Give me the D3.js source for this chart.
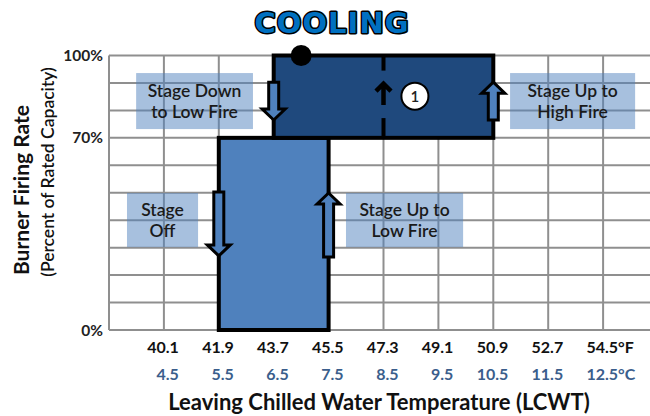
<!DOCTYPE html>
<html>
<head>
<meta charset="utf-8">
<script src="https://cdn.jsdelivr.net/npm/d3@7"></script>
<style>
  body { margin: 0; background: #fff; }
  svg { display: block; }
  text { font-family: Lato, "Noto Sans", sans-serif; }
</style>
</head>
<body>
<svg id="chart" width="650" height="416"></svg>
<script>
// temperature ticks (deg F on top row, deg C underneath)
var tempF = [40.1, 41.9, 43.7, 45.5, 47.3, 49.1, 50.9, 52.7, 54.5];
var tempC = [4.5, 5.5, 6.5, 7.5, 8.5, 9.5, 10.5, 11.5, 12.5];
var gridF = [38.3, 40.1, 41.9, 43.7, 45.5, 47.3, 49.1, 50.9, 52.7, 54.5, 56.3];
var gridPct = [0, 10, 20, 30, 40, 50, 60, 70, 80, 90, 100];
var pctLabels = [0, 70, 100];

// firing stages: [from degF, to degF, low %, high %]
var lowFire = [41.9, 45.5, 0, 70];
var highFire = [43.7, 50.9, 70, 100];

// note boxes: [x0, x1, y0, y1] in degF / percent, with the lines of text
var noteNames = ["Stage Down|to Low Fire", "Stage Up to|High Fire", "Stage|Off", "Stage Up to|Low Fire"];
var noteBoxes = [[39.19, 43.02, 73.2, 93.6], [51.45, 55.55, 73.2, 93.6],
                 [38.89, 41.22, 30.2, 49.9], [46.07, 49.91, 30.2, 49.9]];

// block arrows: [degF, tail %, tip %]
var arrows = [[43.7, 90.3, 76.5], [50.9, 76.5, 90.3], [41.9, 50.3, 27.0], [45.5, 26.6, 49.9]];

var svg = d3.select("#chart");
var x = d3.scaleLinear().domain([38.3, 56.3]).range([109, 658]);
var y = d3.scaleLinear().domain([0, 100]).range([330, 55.5]);

var dark = "#1F497D", mid = "#4F81BD";

// grid
var grid = svg.append("g").attr("stroke", "#8f8f8f").attr("stroke-width", 2);
grid.selectAll("line.v").data(gridF.slice(0, 10)).enter().append("line")
    .attr("x1", function(d) { return x(d); }).attr("x2", function(d) { return x(d); })
    .attr("y1", y(100)).attr("y2", y(0));
grid.selectAll("line.h").data(gridPct).enter().append("line")
    .attr("x1", x(38.3)).attr("x2", 650)
    .attr("y1", function(d) { return y(d); }).attr("y2", function(d) { return y(d); });

// note boxes (see-through so grid shows)
noteBoxes.forEach(function(b, i) {
    svg.append("rect")
        .attr("x", x(b[0])).attr("y", y(b[3]))
        .attr("width", x(b[1]) - x(b[0])).attr("height", y(b[2]) - y(b[3]))
        .attr("fill", mid).attr("fill-opacity", 0.5);
    var lines = noteNames[i].split("|");
    var cx = (x(b[0]) + x(b[1])) / 2, cy = (y(b[2]) + y(b[3])) / 2;
    lines.forEach(function(t, j) {
        svg.append("text").attr("x", cx).attr("y", cy + (j - 0.5) * 21 + 6.5)
            .attr("text-anchor", "middle").attr("font-size", 17.5).attr("font-weight", 600)
            .attr("fill", "#1a1a1a").text(t);
    });
});

// stage bars
function bar(s, fill) {
    svg.append("rect")
        .attr("x", x(s[0])).attr("y", y(s[3]))
        .attr("width", x(s[1]) - x(s[0])).attr("height", y(s[2]) - y(s[3]))
        .attr("fill", fill).attr("stroke", "#000").attr("stroke-width", 4);
}
bar(lowFire, mid);
bar(highFire, dark);

// dashed split line at 47.3 with small arrow
svg.append("line").attr("x1", x(47.3)).attr("x2", x(47.3)).attr("y1", y(100)).attr("y2", y(94.5))
    .attr("stroke", "#000").attr("stroke-width", 4);
svg.append("line").attr("x1", x(47.3)).attr("x2", x(47.3)).attr("y1", y(77.2)).attr("y2", y(70))
    .attr("stroke", "#000").attr("stroke-width", 4);
svg.append("path")
    .attr("d", "M" + x(47.3) + "," + y(82) + "V" + (y(90.3) + 3) +
               "M" + (x(47.3) - 7.5) + "," + (y(90.3) + 9) + "L" + x(47.3) + "," + (y(90.3) + 1.5) +
               "L" + (x(47.3) + 7.5) + "," + (y(90.3) + 9))
    .attr("fill", "none").attr("stroke", "#000").attr("stroke-width", 4.5);

// block arrows
arrows.forEach(function(a) {
    var cx = x(a[0]), t0 = y(a[1]), t1 = y(a[2]);
    var dir = t1 > t0 ? 1 : -1, hw = 5, hh = 11.5, hl = 11;
    var base = t1 - dir * hl;
    var pts = [[cx - hw, t0], [cx + hw, t0], [cx + hw, base], [cx + hh, base], [cx, t1],
               [cx - hh, base], [cx - hw, base]];
    svg.append("path").attr("d", "M" + pts.join("L") + "Z")
        .attr("fill", mid).attr("stroke", "#000").attr("stroke-width", 3).attr("stroke-linejoin", "miter");
});

// markers
svg.append("circle").attr("cx", x(44.6)).attr("cy", y(100)).attr("r", 10.5).attr("fill", "#000");
svg.append("circle").attr("cx", x(48.33)).attr("cy", y(85.2)).attr("r", 13.5)
    .attr("fill", "#fff").attr("stroke", "#000").attr("stroke-width", 2);
svg.append("text").attr("x", x(48.33)).attr("y", y(85.2) + 5.5).attr("text-anchor", "middle")
    .attr("font-size", 15).attr("font-weight", 600).attr("fill", "#222").text("1");

// y labels
svg.selectAll("text.yl").data(pctLabels).enter().append("text")
    .attr("x", 103).attr("y", function(d) { return y(d) + 5.5; })
    .attr("text-anchor", "end").attr("font-size", 15.5).attr("font-weight", 700).attr("fill", "#222")
    .text(function(d) { return d + "%"; });

// x labels
svg.selectAll("text.xf").data(tempF).enter().append("text")
    .attr("x", function(d) { return x(d) + 15; }).attr("y", 353)
    .attr("text-anchor", "end").attr("font-size", 16).attr("font-weight", 700).attr("fill", "#111")
    .text(function(d) { return d.toFixed(1); });
svg.selectAll("text.xc").data(tempC).enter().append("text")
    .attr("x", function(d, i) { return x(tempF[i]) + 15; }).attr("y", 380)
    .attr("text-anchor", "end").attr("font-size", 16).attr("font-weight", 700).attr("fill", "#3b5e8c")
    .text(function(d) { return d.toFixed(1); });
svg.append("text").attr("x", x(54.5) + 15).attr("y", 353).attr("font-size", 16).attr("font-weight", 700)
    .attr("fill", "#111").text("°F");
svg.append("text").attr("x", x(54.5) + 15).attr("y", 380).attr("font-size", 16).attr("font-weight", 700)
    .attr("fill", "#3b5e8c").text("°C");

// axis titles
svg.append("text").attr("x", 379).attr("y", 410).attr("text-anchor", "middle")
    .attr("font-size", 22).attr("font-weight", 700).attr("fill", "#111")
    .text("Leaving Chilled Water Temperature (LCWT)");
svg.append("text").attr("transform", "translate(29,190) rotate(-90)").attr("text-anchor", "middle")
    .attr("font-size", 21).attr("font-weight", 700).attr("fill", "#111").text("Burner Firing Rate");
svg.append("text").attr("transform", "translate(54,172) rotate(-90)").attr("text-anchor", "middle")
    .attr("font-size", 17.5).attr("font-weight", 600).attr("fill", "#111").text("(Percent of Rated Capacity)");

// title
svg.append("text").attr("x", 332).attr("y", 33).attr("text-anchor", "middle")
    .style("font-family", "'DejaVu Sans', sans-serif")
    .attr("font-size", 29).attr("font-weight", 700).attr("letter-spacing", 1)
    .attr("fill", "#0070C0").attr("stroke", "#000").attr("stroke-width", 3)
    .attr("paint-order", "stroke").attr("stroke-linejoin", "round")
    .text("COOLING");
</script>
</body>
</html>
